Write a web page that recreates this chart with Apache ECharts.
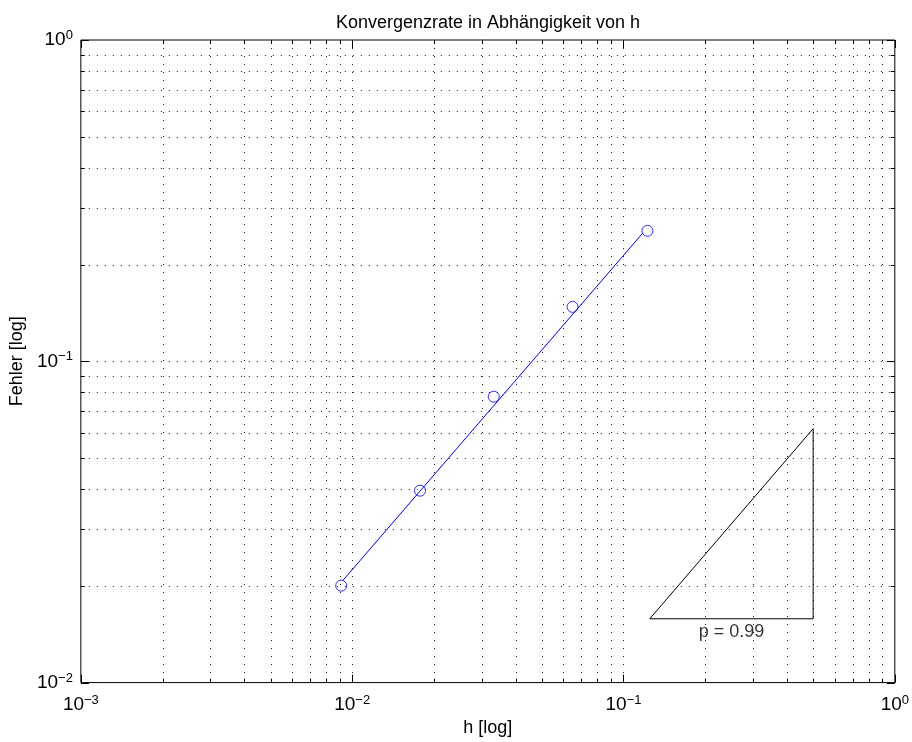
<!DOCTYPE html>
<html>
<head>
<meta charset="utf-8">
<script src="https://cdn.jsdelivr.net/npm/echarts@6/dist/echarts.min.js"></script>
<style>
  html, body { margin: 0; padding: 0; background: #fff; }
  #chart { width: 912px; height: 742px; }
</style>
</head>
<body>
<div id="chart"></div>
<script>
// Measured error against step size h
const hValues = [0.00911, 0.01778, 0.03325, 0.0649, 0.1225];
const errorValues = [0.02003, 0.03956, 0.0776, 0.1477, 0.2547];

// Fitted convergence line
const fitH = [0.00923, 0.1179];
const fitError = [0.02077, 0.2509];

// Slope triangle and its label
const triangleH = [0.125, 0.5, 0.5, 0.125];
const triangleError = [0.0158, 0.0158, 0.0617, 0.0158];
const slopeLabelAt = [0.25, 0.0158];
const slopeLabel = 'p = 0.99';

// Axis decades and minor steps within each decade
const xDecades = [0.001, 0.01, 0.1, 1];
const yDecades = [0.01, 0.1, 1];
const minorSteps = [2, 3, 4, 5, 6, 7, 8, 9];

const FONT = '"Liberation Sans", Arial, Helvetica, sans-serif';
const X_MIN = 0.001, X_MAX = 1, Y_MIN = 0.01, Y_MAX = 1;

function gridValues(decades) {
  const out = [];
  decades.forEach((d, i) => {
    out.push({ v: d, major: true });
    if (i < decades.length - 1) minorSteps.forEach(m => out.push({ v: d * m, major: false }));
  });
  return out;
}
const xGrid = gridValues(xDecades);
const yGrid = gridValues(yDecades);

function powLabel(v) {
  const e = Math.round(Math.log10(v));
  return '{b|10}{s|' + (e < 0 ? '\u2212' + (-e) : e) + '}';
}
const labelRich = {
  b: { fontSize: 19, lineHeight: 22, fontFamily: FONT, color: '#000' },
  s: { fontSize: 13, lineHeight: 12, fontFamily: FONT, color: '#000', verticalAlign: 'top' }
};

const crisp = x => Math.round(x) + 0.5;
const gridStyle = { stroke: '#222', lineWidth: 1, lineDash: [1, 7] };
const tickStyle = { stroke: '#000', lineWidth: 1 };

// Vertical gridlines plus bottom/top tick marks
function renderXGrid(params, api) {
  const item = xGrid[params.dataIndex];
  const bottom = api.coord([item.v, Y_MIN]);
  const top = api.coord([item.v, Y_MAX]);
  const x = crisp(bottom[0]);
  const len = item.major ? 8 : 4;
  const children = [];
  if (item.v !== X_MIN && item.v !== X_MAX) {
    children.push({ type: 'line', shape: { x1: x, y1: top[1], x2: x, y2: bottom[1] }, style: gridStyle, silent: true });
  }
  children.push({ type: 'line', shape: { x1: x, y1: bottom[1], x2: x, y2: bottom[1] - len }, style: tickStyle, silent: true });
  children.push({ type: 'line', shape: { x1: x, y1: top[1], x2: x, y2: top[1] + len }, style: tickStyle, silent: true });
  return { type: 'group', children };
}

// Horizontal gridlines plus left/right tick marks
function renderYGrid(params, api) {
  const item = yGrid[params.dataIndex];
  const left = api.coord([X_MIN, item.v]);
  const right = api.coord([X_MAX, item.v]);
  const y = crisp(left[1]);
  const len = item.major ? 8 : 4;
  const children = [];
  if (item.v !== Y_MIN && item.v !== Y_MAX) {
    children.push({ type: 'line', shape: { x1: left[0], y1: y, x2: right[0], y2: y }, style: gridStyle, silent: true });
  }
  children.push({ type: 'line', shape: { x1: left[0], y1: y, x2: left[0] + len, y2: y }, style: tickStyle, silent: true });
  children.push({ type: 'line', shape: { x1: right[0], y1: y, x2: right[0] - len, y2: y }, style: tickStyle, silent: true });
  return { type: 'group', children };
}

const chart = echarts.init(document.getElementById('chart'), null, { renderer: 'canvas' });
chart.setOption({
  animation: false,
  backgroundColor: '#fff',
  textStyle: { fontFamily: FONT },
  title: {
    text: 'Konvergenzrate in Abhängigkeit von h',
    left: 488, top: 14, padding: 0, textAlign: 'center',
    textStyle: { fontSize: 18, fontWeight: 'normal', color: '#000', fontFamily: FONT }
  },
  grid: {
    left: 80, right: 16, top: 40, bottom: 59,
    show: true, borderColor: '#000', borderWidth: 1, backgroundColor: '#fff'
  },
  xAxis: {
    type: 'log', logBase: 10, min: X_MIN, max: X_MAX,
    name: 'h [log]', nameLocation: 'middle', nameGap: 35,
    nameTextStyle: { fontSize: 18, color: '#000', fontFamily: FONT },
    axisLine: { show: false }, axisTick: { show: false }, splitLine: { show: false },
    axisLabel: { margin: 11, formatter: powLabel, rich: labelRich, showMinLabel: true, showMaxLabel: true }
  },
  yAxis: {
    type: 'log', logBase: 10, min: Y_MIN, max: Y_MAX,
    name: 'Fehler [log]', nameLocation: 'middle', nameGap: 42, nameRotate: 90,
    nameTextStyle: { fontSize: 18, color: '#000', fontFamily: FONT },
    axisLine: { show: false }, axisTick: { show: false }, splitLine: { show: false },
    axisLabel: { margin: 8, formatter: powLabel, rich: labelRich, showMinLabel: true, showMaxLabel: true }
  },
  series: [
    {
      type: 'custom', z: 1, silent: true,
      renderItem: renderXGrid,
      data: xGrid.map(g => [g.v, Y_MIN])
    },
    {
      type: 'custom', z: 1, silent: true,
      renderItem: renderYGrid,
      data: yGrid.map(g => [X_MIN, g.v])
    },
    {
      type: 'line', z: 3, silent: true, symbol: 'none',
      lineStyle: { color: '#0000ff', width: 1 },
      data: fitH.map((h, i) => [h, fitError[i]])
    },
    {
      type: 'scatter', z: 4, silent: true,
      symbol: 'circle', symbolSize: 11,
      itemStyle: { color: 'rgba(0,0,0,0)', borderColor: '#0000ff', borderWidth: 1 },
      data: hValues.map((h, i) => [h, errorValues[i]])
    },
    {
      type: 'line', z: 3, silent: true, symbol: 'none',
      lineStyle: { color: '#000', width: 1 },
      data: triangleH.map((h, i) => [h, triangleError[i]])
    },
    {
      type: 'scatter', z: 5, silent: true, symbolSize: 0,
      label: {
        show: true, position: 'bottom', distance: 4,
        formatter: slopeLabel, fontSize: 18, color: '#000', fontFamily: FONT
      },
      data: [slopeLabelAt]
    }
  ]
});
</script>
</body>
</html>
